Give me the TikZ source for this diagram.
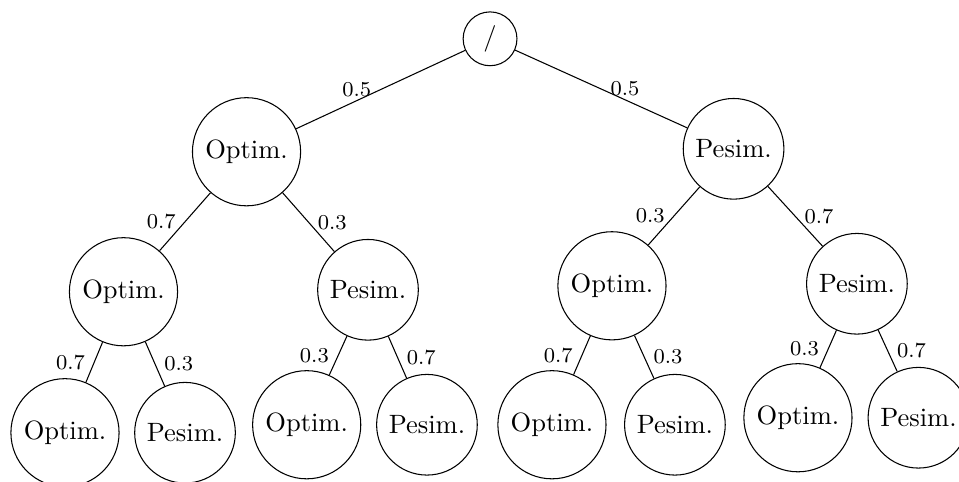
\documentclass[tikz,border=0pt]{standalone}
\usepackage{amsmath,amssymb}
\usepackage{tikz}
\usetikzlibrary{positioning}

\begin{document}
\begin{tikzpicture}[state/.style={circle,draw=black},
    prob/.style={font=\footnotesize}]
    \useasboundingbox (0,0) rectangle (12.72,6.39);
    % root and first guess
    \node[state] (root) at (6.50,5.875) {/};
    \node[state] (o) at (3.27,4.377) {Optim.};
    \node[state] (p) at (9.73,4.416) {Pesim.};
    % second level
    \node[state] (oo) at (1.638,2.520) {Optim.};
    \node[state] (op) at (4.881,2.546) {Pesim.};
    \node[state] (po) at (8.117,2.599) {Optim.};
    \node[state] (pp) at (11.366,2.626) {Pesim.};
    % third level
    \node[state] (ooo) at (0.862,0.650) {Optim.};
    \node[state] (oop) at (2.454,0.650) {Pesim.};
    \node[state] (opo) at (4.068,0.756) {Optim.};
    \node[state] (opp) at (5.663,0.756) {Pesim.};
    \node[state] (poo) at (7.321,0.756) {Optim.};
    \node[state] (pop) at (8.952,0.756) {Pesim.};
    \node[state] (ppo) at (10.584,0.849) {Optim.};
    \node[state] (ppp) at (12.182,0.849) {Pesim.};
    \draw (root) -- node[prob,left] {0.5} (o);
    \draw (root) -- node[prob,right] {0.5} (p);
    \draw (o) -- node[prob,left] {0.7} (oo);
    \draw (o) -- node[prob,right] {0.3} (op);
    \draw (p) -- node[prob,left] {0.3} (po);
    \draw (p) -- node[prob,right] {0.7} (pp);
    \draw (oo) -- node[prob,left] {0.7} (ooo);
    \draw (oo) -- node[prob,right] {0.3} (oop);
    \draw (op) -- node[prob,left] {0.3} (opo);
    \draw (op) -- node[prob,right] {0.7} (opp);
    \draw (po) -- node[prob,left] {0.7} (poo);
    \draw (po) -- node[prob,right] {0.3} (pop);
    \draw (pp) -- node[prob,left] {0.3} (ppo);
    \draw (pp) -- node[prob,right] {0.7} (ppp);
\end{tikzpicture}
\end{document}
